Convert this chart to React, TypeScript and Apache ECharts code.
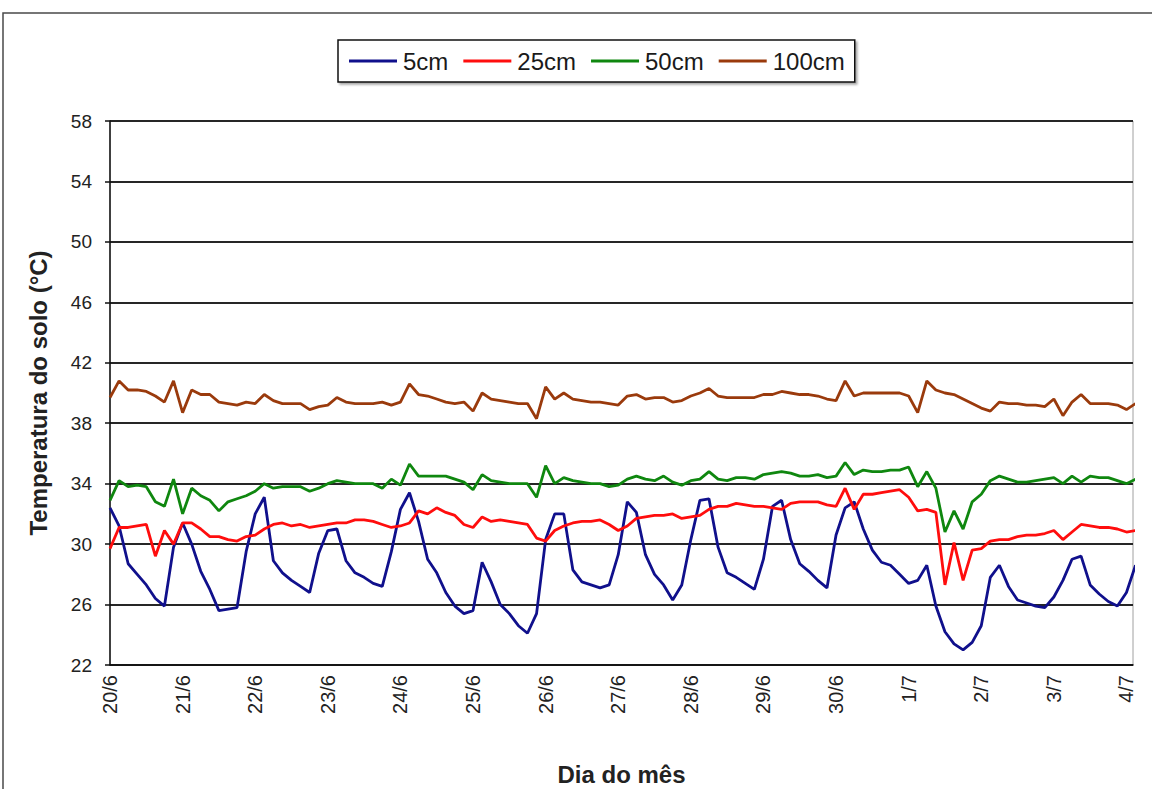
import React, { useEffect, useRef } from "react";
import * as echarts from "echarts";

// Day labels along the x axis (one per day)
const dayLabels = ["20/6", "21/6", "22/6", "23/6", "24/6", "25/6", "26/6", "27/6", "28/6", "29/6", "30/6", "1/7", "2/7", "3/7", "4/7"];
const depthNames = ["5cm", "25cm", "50cm", "100cm"];
const yTicks = { min: 22, max: 58, step: 4 };

// Readings every 3 hours (8 per day), starting at 20/6 00h
const temp5cm = [
  32.4, 31.2, 28.7, 28.0, 27.3, 26.4, 25.9, 29.8,
  31.4, 30.0, 28.2, 27.0, 25.6, 25.7, 25.8, 29.5,
  32.0, 33.1, 28.9, 28.1, 27.6, 27.2, 26.8, 29.4,
  30.9, 31.0, 28.9, 28.1, 27.8, 27.4, 27.2, 29.5,
  32.3, 33.4, 31.5, 29.0, 28.1, 26.8, 25.9, 25.4,
  25.6, 28.8, 27.5, 26.0, 25.4, 24.6, 24.1, 25.4,
  30.3, 32.0, 32.0, 28.3, 27.5, 27.3, 27.1, 27.3,
  29.3, 32.8, 32.1, 29.3, 28.0, 27.3, 26.3, 27.3,
  30.3, 32.9, 33.0, 29.8, 28.1, 27.8, 27.4, 27.0,
  29.0, 32.5, 32.9, 30.3, 28.7, 28.2, 27.6, 27.1,
  30.6, 32.4, 32.8, 31.0, 29.6, 28.8, 28.6, 28.0,
  27.4, 27.6, 28.6, 25.9, 24.2, 23.4, 23.0, 23.5,
  24.6, 27.8, 28.6, 27.2, 26.3, 26.1, 25.9, 25.8,
  26.5, 27.6, 29.0, 29.2, 27.3, 26.7, 26.2, 25.9,
  26.8, 28.6,
];

const temp25cm = [
  29.7, 31.1, 31.1, 31.2, 31.3, 29.2, 30.9, 30.0,
  31.4, 31.4, 31.0, 30.5, 30.5, 30.3, 30.2, 30.5,
  30.6, 31.0, 31.3, 31.4, 31.2, 31.3, 31.1, 31.2,
  31.3, 31.4, 31.4, 31.6, 31.6, 31.5, 31.3, 31.1,
  31.2, 31.4, 32.2, 32.0, 32.4, 32.1, 31.9, 31.3,
  31.1, 31.8, 31.5, 31.6, 31.5, 31.4, 31.3, 30.4,
  30.2, 30.9, 31.2, 31.4, 31.5, 31.5, 31.6, 31.3,
  30.9, 31.2, 31.7, 31.8, 31.9, 31.9, 32.0, 31.7,
  31.8, 31.9, 32.3, 32.5, 32.5, 32.7, 32.6, 32.5,
  32.5, 32.4, 32.3, 32.7, 32.8, 32.8, 32.8, 32.6,
  32.5, 33.7, 32.3, 33.3, 33.3, 33.4, 33.5, 33.6,
  33.1, 32.2, 32.3, 32.1, 27.3, 30.1, 27.6, 29.6,
  29.7, 30.2, 30.3, 30.3, 30.5, 30.6, 30.6, 30.7,
  30.9, 30.3, 30.8, 31.3, 31.2, 31.1, 31.1, 31.0,
  30.8, 30.9,
];

const temp50cm = [
  32.9, 34.2, 33.8, 33.9, 33.8, 32.8, 32.5, 34.3,
  32.0, 33.7, 33.2, 32.9, 32.2, 32.8, 33.0, 33.2,
  33.5, 34.0, 33.7, 33.8, 33.8, 33.8, 33.5, 33.7,
  34.0, 34.2, 34.1, 34.0, 34.0, 34.0, 33.7, 34.3,
  33.9, 35.3, 34.5, 34.5, 34.5, 34.5, 34.3, 34.1,
  33.6, 34.6, 34.2, 34.1, 34.0, 34.0, 34.0, 33.1,
  35.2, 34.0, 34.4, 34.2, 34.1, 34.0, 34.0, 33.8,
  33.9, 34.3, 34.5, 34.3, 34.2, 34.5, 34.1, 33.9,
  34.2, 34.3, 34.8, 34.3, 34.2, 34.4, 34.4, 34.3,
  34.6, 34.7, 34.8, 34.7, 34.5, 34.5, 34.6, 34.4,
  34.5, 35.4, 34.6, 34.9, 34.8, 34.8, 34.9, 34.9,
  35.1, 33.8, 34.8, 33.7, 30.8, 32.2, 31.0, 32.8,
  33.3, 34.2, 34.5, 34.3, 34.1, 34.1, 34.2, 34.3,
  34.4, 34.0, 34.5, 34.1, 34.5, 34.4, 34.4, 34.2,
  34.0, 34.3,
];

const temp100cm = [
  39.7, 40.8, 40.2, 40.2, 40.1, 39.8, 39.4, 40.8,
  38.7, 40.2, 39.9, 39.9, 39.4, 39.3, 39.2, 39.4,
  39.3, 39.9, 39.5, 39.3, 39.3, 39.3, 38.9, 39.1,
  39.2, 39.7, 39.4, 39.3, 39.3, 39.3, 39.4, 39.2,
  39.4, 40.6, 39.9, 39.8, 39.6, 39.4, 39.3, 39.4,
  38.8, 40.0, 39.6, 39.5, 39.4, 39.3, 39.3, 38.3,
  40.4, 39.6, 40.0, 39.6, 39.5, 39.4, 39.4, 39.3,
  39.2, 39.8, 39.9, 39.6, 39.7, 39.7, 39.4, 39.5,
  39.8, 40.0, 40.3, 39.8, 39.7, 39.7, 39.7, 39.7,
  39.9, 39.9, 40.1, 40.0, 39.9, 39.9, 39.8, 39.6,
  39.5, 40.8, 39.8, 40.0, 40.0, 40.0, 40.0, 40.0,
  39.8, 38.7, 40.8, 40.2, 40.0, 39.9, 39.6, 39.3,
  39.0, 38.8, 39.4, 39.3, 39.3, 39.2, 39.2, 39.1,
  39.6, 38.5, 39.4, 39.9, 39.3, 39.3, 39.3, 39.2,
  38.9, 39.3,
];

const readingsPerDay = 8;
const seriesValues = [temp5cm, temp25cm, temp50cm, temp100cm];
const seriesColors = ["#10108c", "#ff0d0d", "#0f870f", "#9a3a0c"];

const FONT = "'Liberation Sans', Arial, Helvetica, sans-serif";

export default function App() {
  const ref = useRef<HTMLDivElement>(null);

  useEffect(() => {
    if (!ref.current) return;
    const chart = echarts.init(ref.current, null, { renderer: "svg" });
    const toPairs = (arr: number[]) => arr.map((v, i) => [i / readingsPerDay, v]);

    chart.setOption({
      animation: false,
      backgroundColor: "#ffffff",
      textStyle: { fontFamily: FONT },
      graphic: [
        {
          type: "rect",
          silent: true,
          shape: { x: 3, y: 13, width: 1200, height: 820 },
          style: { fill: "none", stroke: "#4a4a4a", lineWidth: 1.5 },
        },
      ],
      legend: {
        data: depthNames,
        left: 338,
        top: 40,
        orient: "horizontal",
        icon: "rect",
        itemWidth: 48,
        itemHeight: 3,
        itemGap: 15,
        padding: [9, 10, 9, 11],
        borderColor: "#111",
        borderWidth: 1.5,
        backgroundColor: "#fff",
        shadowColor: "rgba(0,0,0,0.35)",
        shadowBlur: 2,
        shadowOffsetX: 2,
        shadowOffsetY: 2,
        textStyle: { fontSize: 24, color: "#1a1a1a", fontFamily: FONT, padding: [0, 0, 0, 1] },
      },
      grid: {
        left: 110,
        right: 19,
        top: 121,
        bottom: 124,
        show: true,
        borderColor: "#a0a0a0",
        borderWidth: 1,
        containLabel: false,
        outerBoundsMode: "none",
      },
      xAxis: {
        type: "value",
        min: 0,
        max: 14.09,
        interval: 1,
        name: "Dia do mês",
        nameLocation: "middle",
        nameGap: 97,
        nameTextStyle: { fontSize: 24, fontWeight: "bold", color: "#222", fontFamily: FONT },
        axisLine: { show: true, lineStyle: { color: "#111", width: 1.5 } },
        axisTick: { show: false },
        splitLine: { show: false },
        axisLabel: {
          rotate: 90,
          margin: 10,
          fontSize: 20,
          color: "#222",
          fontFamily: FONT,
          formatter: (v: number) => {
            const i = Math.round(v);
            return Math.abs(v - i) < 1e-6 && dayLabels[i] ? dayLabels[i] : "";
          },
        },
      },
      yAxis: {
        type: "value",
        min: yTicks.min,
        max: yTicks.max,
        interval: yTicks.step,
        name: "Temperatura do solo (°C)",
        nameLocation: "middle",
        nameGap: 60,
        nameTextStyle: { fontSize: 24, fontWeight: "bold", color: "#222", fontFamily: FONT },
        axisLine: { show: true, lineStyle: { color: "#111", width: 1.5 } },
        axisTick: { show: true, length: 5, lineStyle: { color: "#111", width: 1.5 } },
        splitLine: { show: true, lineStyle: { color: "#262626", width: 2 } },
        axisLabel: { fontSize: 19, color: "#222", margin: 18, fontFamily: FONT },
      },
      series: depthNames.map((name, k) => ({
        name,
        type: "line",
        data: toPairs(seriesValues[k]),
        showSymbol: false,
        symbol: "none",
        clip: true,
        color: seriesColors[k],
        lineStyle: { color: seriesColors[k], width: 2.8 },
        z: 2 + k,
      })),
    });

    return () => chart.dispose();
  }, []);

  return (
    <div
      ref={ref}
      style={{ position: "fixed", left: 0, top: 0, width: 1152, height: 789, background: "#fff" }}
    />
  );
}
